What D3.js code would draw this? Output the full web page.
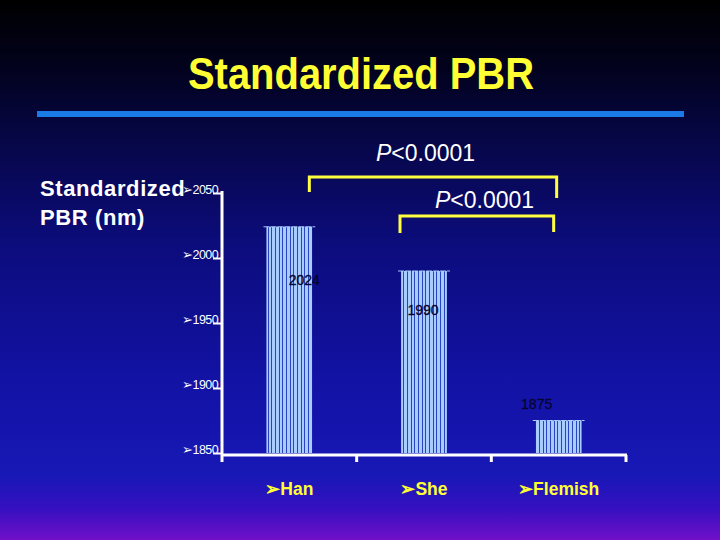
<!DOCTYPE html>
<html><head><meta charset="utf-8">
<script src="https://cdn.jsdelivr.net/npm/d3@7"></script>
<style>html,body{margin:0;padding:0;background:#000;}svg{display:block;}</style>
</head><body>
<script>
const categories = ["Han", "She", "Flemish"];
const values = [2024, 1990, 1875];
const valueLabels = ["2024", "1990", "1875"];
const yTicks = [1850, 1900, 1950, 2000, 2050];
const pLabels = ["<0.0001", "<0.0001"];
const comparisons = [["Han", "Flemish"], ["She", "Flemish"]];

const W = 720, H = 540;
const svg = d3.select("body").append("svg").attr("width", W).attr("height", H);
const defs = svg.append("defs");
const bg = defs.append("linearGradient").attr("id", "bg").attr("x1", 0).attr("y1", 0).attr("x2", 0).attr("y2", 1);
[[0, "#000000"], [0.12, "#02021c"], [0.25, "#060644"], [0.45, "#0c0c7c"], [0.7, "#1212a4"], [0.88, "#1818b6"], [0.94, "#3410c0"], [1, "#7010c8"]]
  .forEach(([o, c]) => bg.append("stop").attr("offset", o).attr("stop-color", c));
svg.append("rect").attr("width", W).attr("height", H).attr("fill", "url(#bg)");

// striped bar pattern
const pat = defs.append("pattern").attr("id", "stripes").attr("patternUnits", "userSpaceOnUse")
  .attr("width", 11).attr("height", 10);
pat.append("rect").attr("width", 11).attr("height", 10).attr("fill", "#a8ccff");
[[0, 1], [4, 1], [7, 1]].forEach(([x, w]) =>
  pat.append("rect").attr("x", x).attr("width", w).attr("height", 10).attr("fill", "#2844c0"));

// title
svg.append("text").attr("x", 361).attr("y", 89).attr("text-anchor", "middle")
  .attr("font-family", "Liberation Sans Narrow, Liberation Sans, Arial").attr("font-weight", "bold")
  .attr("font-size", 44).attr("fill", "#ffff33")
  .attr("textLength", 346).attr("lengthAdjust", "spacingAndGlyphs")
  .text("Standardized PBR");
svg.append("rect").attr("x", 37).attr("y", 111).attr("width", 647).attr("height", 6).attr("fill", "#1a7ae6");

// scales
const x = d3.scaleBand().domain(categories).range([222, 626]).padding(0);
const y = d3.scaleLinear().domain([1850, 2050]).range([453, 193]);
const barW = x.bandwidth() * 0.34;
const cx = c => x(c) + x.bandwidth() / 2;

// y axis
const yAxis = svg.append("g").attr("transform", "translate(222,0)")
  .call(d3.axisLeft(y).tickValues(yTicks).tickSize(9).tickFormat(d => "➢" + d));
yAxis.select(".domain").remove();
yAxis.selectAll(".tick line").attr("stroke", "#fff").attr("stroke-width", 2);
yAxis.selectAll(".tick text").attr("fill", "#fff").attr("font-family", "Liberation Sans, Arial")
  .attr("font-size", 12.5).attr("x", -4).attr("dy", "0em").attr("letter-spacing", -0.6);
svg.append("line").attr("x1", 222).attr("x2", 222).attr("y1", y(2050) - 2).attr("y2", y(1850) + 9)
  .attr("stroke", "#fff").attr("stroke-width", 3);

// x axis
svg.append("line").attr("x1", 222).attr("x2", 627).attr("y1", y(1850) + 2).attr("y2", y(1850) + 2)
  .attr("stroke", "#fff").attr("stroke-width", 3);
svg.selectAll(".xt").data(categories).enter().append("line")
  .attr("x1", d => x(d) + x.bandwidth()).attr("x2", d => x(d) + x.bandwidth())
  .attr("y1", y(1850) + 2).attr("y2", y(1850) + 9).attr("stroke", "#fff").attr("stroke-width", 3);

// bars
svg.selectAll(".bar").data(categories).enter().append("rect")
  .attr("x", d => cx(d) - barW / 2).attr("width", barW)
  .attr("y", (d, i) => y(values[i])).attr("height", (d, i) => y(1850) - y(values[i]))
  .attr("fill", "url(#stripes)");
svg.selectAll(".bartop").data(categories).enter().append("line")
  .attr("x1", d => cx(d) - barW / 2 - 3).attr("x2", d => cx(d) + barW / 2 + 3)
  .attr("y1", (d, i) => y(values[i])).attr("y2", (d, i) => y(values[i]))
  .attr("stroke", "#a8ccff").attr("stroke-width", 1).attr("stroke-dasharray", "6,1");

// value labels
const labelDx = [15, -1, -22], labelDy = [58, 44, -12];
svg.selectAll(".vl").data(valueLabels).enter().append("text")
  .attr("x", (d, i) => cx(categories[i]) + labelDx[i])
  .attr("y", (d, i) => y(values[i]) + labelDy[i])
  .attr("text-anchor", "middle").attr("font-family", "Liberation Sans, Arial").attr("font-size", 14)
  .attr("fill", "#050530").attr("stroke", "#050530").attr("stroke-width", 0.3).text(d => d);

// category labels
svg.selectAll(".cl").data(categories).enter().append("text")
  .attr("x", d => cx(d)).attr("y", 495).attr("text-anchor", "middle")
  .attr("font-family", "Liberation Sans, Arial").attr("font-weight", "bold").attr("font-size", 17.5)
  .attr("fill", "#ffff33").text(d => "➢" + d);

// y axis title
const yt = svg.append("text").attr("font-family", "Liberation Sans, Arial").attr("font-weight", "bold")
  .attr("font-size", 22).attr("fill", "#fff").attr("letter-spacing", 0.6);
yt.append("tspan").attr("x", 40).attr("y", 196).text("Standardized");
yt.append("tspan").attr("x", 40).attr("y", 225).text("PBR (nm)");

// significance brackets
const bTop = [177, 216], bLeftDown = [192, 233], bRightDown = [198, 232];
const bLeftX = [cx("Han") + 20, cx("She") - 24], bRightX = [cx("Flemish") - 2, cx("Flemish") - 5];
comparisons.forEach((c, i) => {
  const x1 = bLeftX[i], x2 = bRightX[i];
  svg.append("path").attr("d", `M${x1},${bLeftDown[i]}V${bTop[i]}H${x2}V${bRightDown[i]}`)
    .attr("fill", "none").attr("stroke", "#ffff40").attr("stroke-width", 3);
  const t = svg.append("text").attr("x", i === 0 ? 376 : 435).attr("y", i === 0 ? 161 : 208)
    .attr("font-family", "Liberation Sans, Arial").attr("font-size", 23).attr("fill", "#fff");
  t.append("tspan").attr("font-style", "italic").text("P");
  t.append("tspan").text(pLabels[i]);
});
</script>
</body></html>
